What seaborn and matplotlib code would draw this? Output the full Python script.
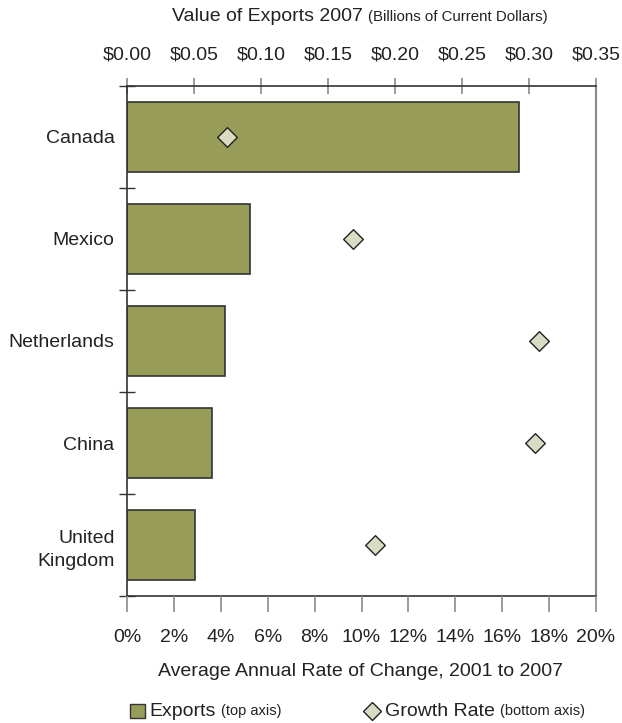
import numpy as np
import matplotlib
matplotlib.use("Agg")
import matplotlib.pyplot as plt
import seaborn as sns
from matplotlib.patches import Rectangle
from matplotlib.lines import Line2D

# data
countries = ["Canada", "Mexico", "Netherlands", "China", "United\nKingdom"]
exports = [0.2925, 0.0920, 0.0729, 0.0632, 0.0507]      # billions of dollars (top axis)
growth = [4.26, 9.62, 17.56, 17.38, 10.58]              # percent (bottom axis)
export_ticks = [0.00, 0.05, 0.10, 0.15, 0.20, 0.25, 0.30, 0.35]
growth_ticks = [0, 2, 4, 6, 8, 10, 12, 14, 16, 18, 20]

bar_color = "#979C58"
diamond_color = "#D9DCC3"
dark = "#333333"
text_color = "#222222"

sns.set_theme(style="white")
plt.rcParams["font.family"] = ["Liberation Sans", "DejaVu Sans"]

W, H = 622, 723
fx = lambda px: px / W
fy = lambda py: 1 - py / H

fig = plt.figure(figsize=(W / 100, H / 100), dpi=100)
ax = fig.add_axes([fx(127), fy(596), (596 - 127) / W, (596 - 86) / H])

# bars on the primary axis (top scale)
sns.barplot(x=exports, y=countries, orient="h", color=bar_color, saturation=1,
            edgecolor=dark, linewidth=1.2, width=0.69, ax=ax)
ax.set_xlabel("")
ax.set_ylabel("")

# growth rate diamonds on the twin axis (bottom scale)
ax2 = ax.twiny()
n = len(countries)
sns.scatterplot(x=growth, y=np.arange(n), marker="D", s=100, color=diamond_color,
                edgecolor="#222222", linewidth=1, ax=ax2, zorder=3)
ax2.set_xlim(0, 20)
ax2.xaxis.set_ticks_position("bottom")
ax2.xaxis.set_label_position("bottom")
ax2.set_xticks(growth_ticks, labels=[f"{v}%" for v in growth_ticks])
ax2.tick_params(axis="x", direction="out", length=11.5, width=1.2, color="#8a8a8a",
                labelsize=14, labelcolor=text_color, pad=12)
for s in ax2.spines.values():
    s.set_visible(False)

# top scale for the bars (set after twiny, which moves it)
ax.set_xlim(0, 0.35)
ax.xaxis.set_ticks_position("top")
ax.xaxis.set_label_position("top")
ax.set_xticks(export_ticks, labels=[f"${v:.2f}" for v in export_ticks])
ax.tick_params(axis="x", direction="inout", length=12, width=1.2, color="#8a8a8a",
               labelsize=14, labelcolor=text_color, pad=10)

# category separators as major ticks, names as minor ticks
ax.set_yticks(np.arange(-0.5, n, 1), labels=[""] * (n + 1))
ax.set_yticks(np.arange(n), labels=countries, minor=True)
ax.tick_params(axis="y", which="major", direction="inout", length=11, width=1, color=dark, left=True)
ax.tick_params(axis="y", which="minor", length=0, pad=9, labelsize=14, labelcolor=text_color, left=True)
for lab in ax.get_yticklabels(minor=True):
    lab.set_linespacing(1.5)
ax.set_ylim(n - 0.5, -0.5)

for side in ["top", "left", "bottom"]:
    ax.spines[side].set_color(dark)
    ax.spines[side].set_linewidth(1.2)
ax.spines["right"].set_color("#8a8a8a")
ax.spines["right"].set_linewidth(1.5)

# titles
t1 = fig.text(fx(172), fy(21), "Value of Exports 2007", fontsize=14, color=text_color,
              ha="left", va="baseline")
ax.annotate("(Billions of Current Dollars)", xy=(1, 0), xycoords=t1, xytext=(4, 1),
            textcoords="offset points", fontsize=10.8, color=text_color, va="bottom",
            annotation_clip=False)
fig.text(fx(360), fy(672), "Average Annual Rate of Change, 2001 to 2007", fontsize=14,
         color=text_color, ha="center", va="center")

# legend drawn by hand
fig.patches.append(Rectangle((fx(130), fy(718)), 15 / W, 14 / H, transform=fig.transFigure,
                             facecolor=bar_color, edgecolor=dark, linewidth=1))
l1 = fig.text(fx(149), fy(711), "Exports", fontsize=14, color=text_color, ha="left", va="center")
ax.annotate("(top axis)", xy=(1, 0), xycoords=l1, xytext=(4, 1), textcoords="offset points",
            fontsize=10.5, color=text_color, va="bottom", annotation_clip=False)
fig.lines.append(Line2D([fx(372)], [fy(711)], transform=fig.transFigure, marker="D",
                        markersize=9, markerfacecolor=diamond_color, markeredgecolor="#222222",
                        markeredgewidth=1, linestyle="none"))
l2 = fig.text(fx(385), fy(711), "Growth Rate", fontsize=14, color=text_color, ha="left", va="center")
ax.annotate("(bottom axis)", xy=(1, 0), xycoords=l2, xytext=(4, 1), textcoords="offset points",
            fontsize=10.5, color=text_color, va="bottom", annotation_clip=False)

fig.savefig("out.png", dpi=100)
